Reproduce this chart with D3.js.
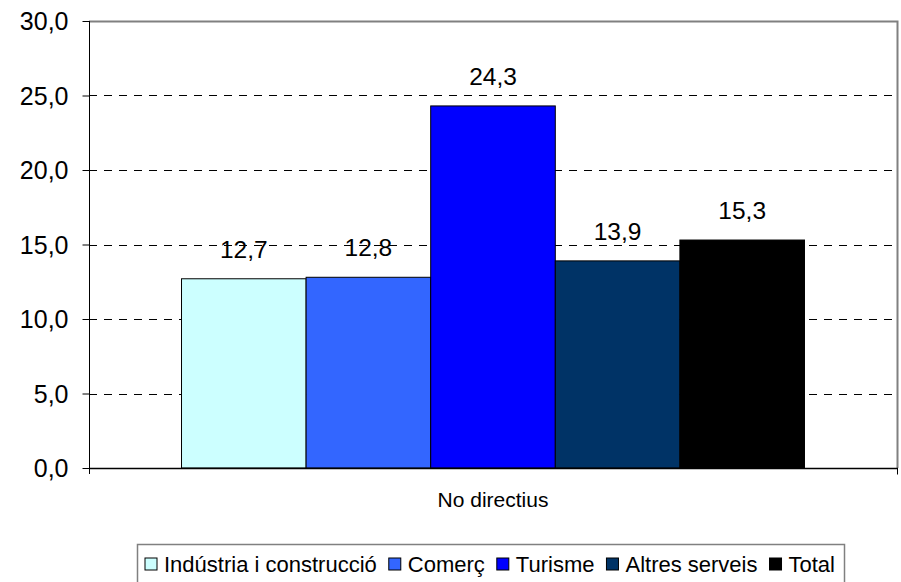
<!DOCTYPE html>
<html>
<head>
  <meta charset="utf-8">
  <title>No directius</title>
  <script src="https://d3js.org/d3.v7.min.js"></script>
  <style>
    body { margin: 0; background: #fff; }
    text { font-family: "Liberation Sans", Arial, sans-serif; fill: #000; }
  </style>
</head>
<body>
  <script>
    // Values
    var categories = ["No directius"];
    var seriesNames = ["Indústria i construcció", "Comerç", "Turisme", "Altres serveis", "Total"];
    var seriesValues = [12.7, 12.8, 24.3, 13.9, 15.3];
    var seriesColors = ["#CCFFFF", "#3366FF", "#0000FF", "#003366", "#000000"];
    var yTicks = [0, 5, 10, 15, 20, 25, 30];

    var W = 901, H = 582;
    var plot = { left: 89, top: 21, right: 897, bottom: 468 };
    var fmt = function (v) { return d3.format(".1f")(v).replace(".", ","); };

    var svg = d3.select("body").append("svg")
      .attr("width", W).attr("height", H);

    var y = d3.scaleLinear().domain([0, 30]).range([plot.bottom, plot.top]);
    var x0 = d3.scaleBand().domain(categories).range([plot.left, plot.right]).paddingInner(0).paddingOuter(0.1485);
    var x1 = d3.scaleBand().domain(seriesNames).range([0, x0.bandwidth()]);

    // dashed gridlines
    svg.append("g").selectAll("line")
      .data(yTicks.filter(function (d) { return d > 0 && d < 30; }))
      .enter().append("line")
      .attr("x1", plot.left).attr("x2", plot.right)
      .attr("y1", function (d) { return Math.round(y(d)) + 0.5; })
      .attr("y2", function (d) { return Math.round(y(d)) + 0.5; })
      .attr("stroke", "#000").attr("stroke-dasharray", "8,7");

    // plot frame top / right (gray)
    svg.append("path")
      .attr("d", "M" + plot.left + "," + (plot.top + 0.5) + "H" + (plot.right + 0.5) + "V" + plot.bottom)
      .attr("fill", "none").attr("stroke", "#808080").attr("stroke-width", 2);

    // bars
    var g = svg.append("g").selectAll("g").data(categories).enter().append("g")
      .attr("transform", function (d) { return "translate(" + x0(d) + ",0)"; });

    g.selectAll("rect")
      .data(seriesNames.map(function (n, i) { return { name: n, value: seriesValues[i], color: seriesColors[i] }; }))
      .enter().append("rect")
      .attr("x", function (d) { return x1(d.name); })
      .attr("y", function (d) { return y(d.value); })
      .attr("width", x1.bandwidth())
      .attr("height", function (d) { return plot.bottom - y(d.value); })
      .attr("fill", function (d) { return d.color; })
      .attr("stroke", "#000").attr("stroke-width", 1);

    g.selectAll("text.lbl")
      .data(seriesNames.map(function (n, i) { return { name: n, value: seriesValues[i] }; }))
      .enter().append("text").attr("class", "lbl")
      .attr("x", function (d) { return x1(d.name) + x1.bandwidth() / 2; })
      .attr("y", function (d) { return y(d.value) - 21; })
      .attr("text-anchor", "middle")
      .style("font-size", "24.5px")
      .text(function (d) { return fmt(d.value); });

    // y axis
    var yAxis = d3.axisLeft(y).tickValues(yTicks).tickFormat(fmt).tickSize(7).tickSizeOuter(0);
    var ya = svg.append("g").attr("transform", "translate(" + (plot.left + 0.5) + ",0)").call(yAxis);
    ya.select(".domain").attr("stroke", "#000").attr("d", "M0," + plot.top + "V" + (plot.bottom + 6));
    ya.selectAll(".tick line").attr("stroke", "#000");
    ya.selectAll(".tick text").attr("x", -21).style("font-size", "25px").attr("dy", "0.35em");
    ya.attr("font-family", null).attr("font-size", null);

    // x axis
    var xa = svg.append("g").attr("transform", "translate(0," + (plot.bottom + 0.5) + ")");
    xa.append("line").attr("x1", plot.left).attr("x2", plot.right + 1)
      .attr("stroke", "#000").attr("stroke-width", 1.5);
    xa.append("line").attr("x1", plot.right + 0.5).attr("x2", plot.right + 0.5)
      .attr("y1", 0).attr("y2", 6).attr("stroke", "#000");
    xa.selectAll("text").data(categories).enter().append("text")
      .attr("x", function (d) { return x0(d) + x0.bandwidth() / 2; })
      .attr("y", 38.5)
      .attr("text-anchor", "middle")
      .style("font-size", "21px")
      .text(function (d) { return d; });

    // legend: items spread between x=145 and x=835
    var legend = svg.append("g").attr("transform", "translate(137.5,544.5)");
    legend.append("rect").attr("width", 707).attr("height", 45)
      .attr("fill", "#fff").attr("stroke", "#808080").attr("stroke-width", 1.5);
    var items = seriesNames.map(function (n, i) {
      var it = legend.append("g");
      it.append("rect").attr("x", 0).attr("y", 13.5).attr("width", 12).attr("height", 12)
        .attr("fill", seriesColors[i]).attr("stroke", "#000");
      var t = it.append("text").attr("x", 19).attr("y", 27)
        .style("font-size", "22px").text(n);
      return { g: it, w: 19 + t.node().getComputedTextLength() };
    });
    var used = d3.sum(items, function (d) { return d.w; });
    var gap = (690 - used) / (items.length - 1);
    var lx = 7.5;
    items.forEach(function (d) {
      d.g.attr("transform", "translate(" + lx + ",0)");
      lx += d.w + gap;
    });
  </script>
</body>
</html>
